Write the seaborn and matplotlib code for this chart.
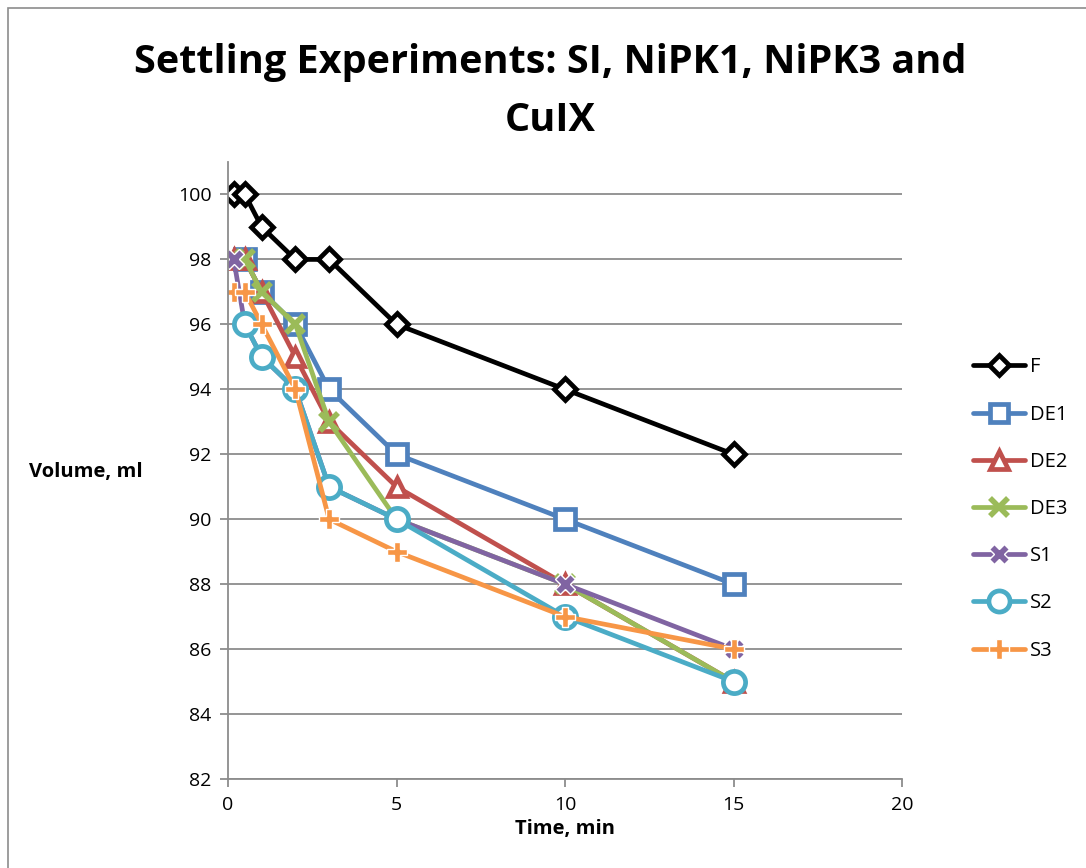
import matplotlib
matplotlib.use("Agg")
import matplotlib.pyplot as plt
import seaborn as sns
import pandas as pd
from matplotlib.patches import Rectangle

sns.set_theme(style="white")
plt.rcParams['font.family'] = ['Open Sans', 'DejaVu Sans']
plt.rcParams['text.color'] = 'black'
plt.rcParams['axes.labelcolor'] = 'black'

time_F = [0.17, 0.5, 1, 2, 3, 5, 10, 15]
vol_F = [100, 100, 99, 98, 98, 96, 94, 92]
time_DE1 = [0.5, 1, 2, 3, 5, 10, 15]
vol_DE1 = [98, 97, 96, 94, 92, 90, 88]
time_DE2 = [0.17, 0.5, 1, 2, 3, 5, 10, 15]
vol_DE2 = [98, 98, 97, 95, 93, 91, 88, 85]
time_DE3 = [0.17, 0.5, 1, 2, 3, 5, 10, 15]
vol_DE3 = [98, 98, 97, 96, 93, 90, 88, 85]
time_S1 = [0.17, 0.5, 1, 2, 3, 5, 10, 15]
vol_S1 = [98, 96, 95, 94, 91, 90, 88, 86]
time_S2 = [0.5, 1, 2, 3, 5, 10, 15]
vol_S2 = [96, 95, 94, 91, 90, 87, 85]
time_S3 = [0.17, 0.5, 1, 2, 3, 5, 10, 15]
vol_S3 = [97, 97, 96, 94, 90, 89, 87, 86]

series_names = ["F", "DE1", "DE2", "DE3", "S1", "S2", "S3"]
series_time = [time_F, time_DE1, time_DE2, time_DE3, time_S1, time_S2, time_S3]
series_vol = [vol_F, vol_DE1, vol_DE2, vol_DE3, vol_S1, vol_S2, vol_S3]

colors = {"F": "#000000", "DE1": "#4F81BD", "DE2": "#C0504D", "DE3": "#9BBB59",
          "S1": "#8064A2", "S2": "#4BACC6", "S3": "#F79646"}
markers = {"F": "D", "DE1": "s", "DE2": "^", "DE3": "x", "S1": "X", "S2": "o", "S3": "P"}
msize = {"F": 11, "DE1": 14, "DE2": 13, "DE3": 13, "S1": 15, "S2": 16, "S3": 15}

fig = plt.figure(figsize=(10.86, 8.68), dpi=100)
fig.patch.set_facecolor("white")
fig.patches.append(Rectangle((8/1086, -0.1), 1.2, (868-8)/868 + 0.1, transform=fig.transFigure,
                             fill=False, edgecolor="#8C8C8C", linewidth=1.2))
ax = fig.add_axes([228/1086, 1-779/868, (902-228)/1086, (779-162)/868])

rows = []
for n, t, v in zip(series_names, series_time, series_vol):
    for a, b in zip(t, v):
        rows.append({"series": n, "time": a, "volume": b})
df = pd.DataFrame(rows)

for n in series_names:
    sub = df[df["series"] == n]
    c = colors[n]
    m = markers[n]
    if m in ("x",):
        kw = dict(markerfacecolor=c, markeredgecolor=c, markeredgewidth=4)
    elif m in ("X", "P"):
        kw = dict(markerfacecolor=c, markeredgecolor="white", markeredgewidth=1.0)
    else:
        kw = dict(markerfacecolor="white", markeredgecolor=c, markeredgewidth=3.4)
    sns.lineplot(data=sub, x="time", y="volume", ax=ax, color=c, linewidth=3.4,
                 marker=m, markersize=msize[n], label=n, estimator=None, sort=False, **kw)

ax.set_xlim(0, 20)
ax.set_ylim(82, 101)
ax.set_xticks([0, 5, 10, 15, 20])
ax.set_yticks(list(range(82, 101, 2)))
ax.yaxis.grid(True, color="#8C8C8C", linewidth=1.3)
ax.xaxis.grid(False)
for s in ["top", "right"]:
    ax.spines[s].set_visible(False)
for s in ["left", "bottom"]:
    ax.spines[s].set_color("#8C8C8C")
    ax.spines[s].set_linewidth(1.3)
ax.tick_params(axis="both", which="major", direction="out", length=6, width=1.3,
               color="#8C8C8C", labelsize=14, labelcolor="black", pad=6, left=True, bottom=True)

ax.set_xlabel("Time, min", fontsize=14.5, fontweight="bold", labelpad=4)
ax.set_ylabel("")
fig.text(86/1086, 1-472/868, "Volume, ml", fontsize=14.5, fontweight="bold",
         ha="center", va="center")

fig.text(550/1086, 1-62/868, "Settling Experiments: SI, NiPK1, NiPK3 and", fontsize=28.5,
         fontweight="bold", ha="center", va="center")
fig.text(550/1086, 1-120/868, "CuIX", fontsize=28.5, fontweight="bold", ha="center", va="center")

leg = ax.legend(loc="center left", bbox_to_anchor=(955/1086, 1-509/868), bbox_transform=fig.transFigure,
                frameon=False, fontsize=14.5, handlelength=2.6, labelspacing=1.35, handletextpad=0.2,
                markerscale=0.95)

fig.savefig("out.png", dpi=100, facecolor="white")
